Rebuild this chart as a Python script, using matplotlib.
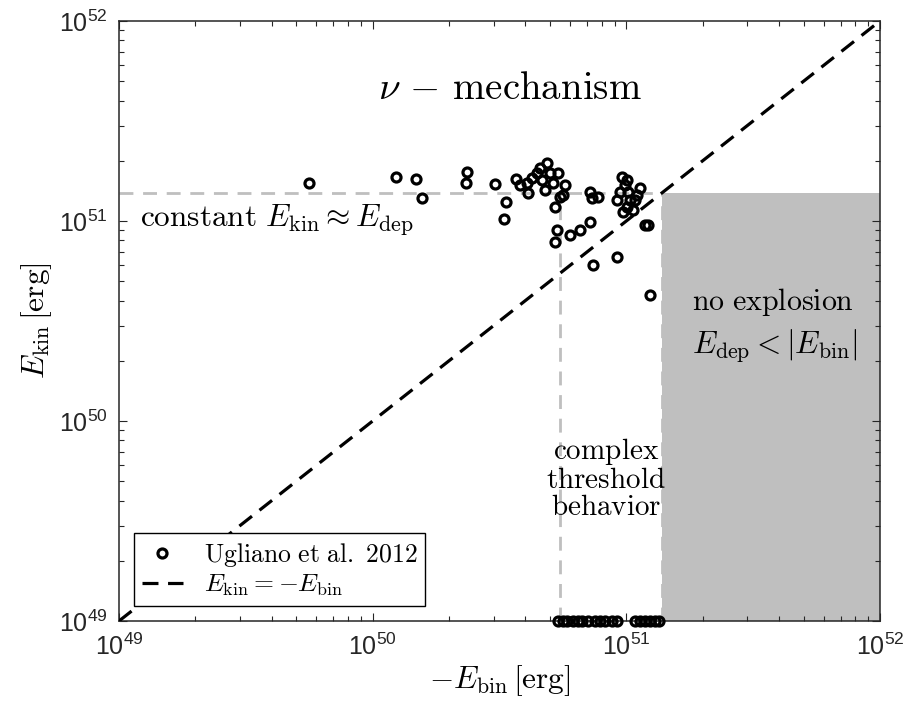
import numpy as np
import matplotlib
matplotlib.use("Agg")
import matplotlib.pyplot as plt

plt.rcParams["font.family"] = ["Liberation Sans", "DejaVu Sans"]
plt.rcParams["mathtext.fontset"] = "cm"

# Ugliano et al. 2012 models that explode: -E_bin and E_kin (units of 1e51 erg)
e_bin_expl = [0.056, 0.124, 0.148, 0.156, 0.236, 0.233, 0.303, 0.335, 0.330,
              0.367, 0.409, 0.406, 0.445, 0.456, 0.486, 0.465, 0.500, 0.537,
              0.514, 0.573, 0.547, 0.524, 0.562, 0.425, 0.381, 0.478, 0.719,
              0.773, 0.731, 0.532, 0.524, 0.600, 0.656, 0.719, 0.738, 0.918,
              1.239, 0.962, 1.005, 0.986, 1.132, 0.918, 1.005, 1.081, 0.971,
              1.062, 1.014, 1.102, 1.183, 1.216, 0.944, 1.033]
e_kin_expl = [1.55, 1.66, 1.62, 1.30, 1.76, 1.55, 1.53, 1.25, 1.02,
              1.62, 1.38, 1.55, 1.74, 1.84, 1.95, 1.60, 1.74, 1.74,
              1.55, 1.51, 1.32, 1.18, 1.35, 1.64, 1.51, 1.43, 1.40,
              1.32, 1.30, 0.90, 0.785, 0.851, 0.902, 0.989, 0.603, 0.661,
              0.427, 1.66, 1.60, 1.51, 1.46, 1.27, 1.18, 1.27, 1.11,
              1.14, 1.40, 1.35, 0.955, 0.955, 1.40, 1.27]

# models that fail to explode (plotted on the lower axis limit)
e_bin_fail = [0.537, 0.562, 0.583, 0.617, 0.644, 0.668, 0.706, 0.752, 0.787,
              0.824, 0.877, 0.918, 1.081, 1.132, 1.183, 1.239, 1.297, 1.343]

e_dep = 1.38e51        # deposited energy
e_threshold = 5.5e50   # onset of non-exploding models
xlim = [1e49, 1e52]
ylim = [1e49, 1e52]

x_expl = np.array(e_bin_expl) * 1e51
y_expl = np.array(e_kin_expl) * 1e51
x_fail = np.array(e_bin_fail) * 1e51
y_fail = np.full_like(x_fail, ylim[0])

fig = plt.figure(figsize=(9.12, 7.04), dpi=100)
ax = fig.add_axes([0.1305, 0.1179, 0.8344, 0.8523])
ax.set_xscale("log")
ax.set_yscale("log")
ax.set_xlim(xlim)
ax.set_ylim(ylim)

gray = "0.75"
# no-explosion region
ax.fill_between([e_dep, xlim[1]], ylim[0], e_dep, color=gray, lw=0, zorder=0)
ax.plot([xlim[0], e_dep], [e_dep, e_dep], color=gray, lw=2, dashes=(5, 3.5), zorder=1)
ax.plot([e_threshold, e_threshold], [ylim[0], e_dep], color=gray, lw=2, dashes=(5, 3.5), zorder=1)
ax.plot([e_dep, e_dep], [ylim[0], e_dep], color=gray, lw=2, dashes=(5, 3.5), zorder=1)

mk = dict(marker="o", ls="none", ms=6.5, mfc="none", mec="k", mew=2.3)
ax.plot(x_expl, y_expl, label="$\\mathrm{Ugliano\\ et\\ al.\\ 2012}$", zorder=4, **mk)
ax.plot(x_fail, y_fail, clip_on=False, zorder=5, **mk)
ax.plot(xlim, ylim, color="k", lw=2.3, dashes=(5, 3),
        label="$E_\\mathrm{kin} = -E_\\mathrm{bin}$", zorder=3)

# annotations
ax.text(0.513, 0.886, "$\\nu\\,-\\,\\mathrm{mechanism}$", transform=ax.transAxes,
        ha="center", va="center", fontsize=28)
ax.text(0.027, 0.668, "$\\mathrm{constant}\\ E_\\mathrm{kin} \\approx E_\\mathrm{dep}$",
        transform=ax.transAxes, ha="left", va="center", fontsize=22.5)
ax.text(0.859, 0.532, "$\\mathrm{no\\ explosion}$", transform=ax.transAxes,
        ha="center", va="center", fontsize=21.5)
ax.text(0.861, 0.458, "$E_\\mathrm{dep} < |E_\\mathrm{bin}|$", transform=ax.transAxes,
        ha="center", va="center", fontsize=22.5)
ax.text(0.640, 0.237, "$\\mathrm{complex}$\n$\\mathrm{threshold}$\n$\\mathrm{behavior}$",
        transform=ax.transAxes, ha="center", va="center", fontsize=21,
        linespacing=0.95, multialignment="center")

ax.set_xlabel("$-E_\\mathrm{bin}\\,[\\mathrm{erg}]$", fontsize=22.5, labelpad=2)
ax.set_ylabel("$E_\\mathrm{kin}\\,[\\mathrm{erg}]$", fontsize=22.5, labelpad=4)

for s in ax.spines.values():
    s.set_linewidth(1.1)
    s.set_color("0.15")
ax.tick_params(which="both", direction="in", top=True, right=True,
               colors="0.15", labelsize=18, width=0.8)
ax.tick_params(which="major", length=6, pad=8)
ax.tick_params(which="minor", length=3.5)
ax.xaxis.set_tick_params(pad=9)

leg = ax.legend(loc="lower left", bbox_to_anchor=(0.02, 0.025), fontsize=18.5,
                fancybox=False, framealpha=1, edgecolor="k", handlelength=1.6,
                handletextpad=0.8, borderpad=0.3, labelspacing=0.15,
                borderaxespad=0)
leg.get_frame().set_linewidth(1.0)

fig.savefig("out.png", dpi=100)
